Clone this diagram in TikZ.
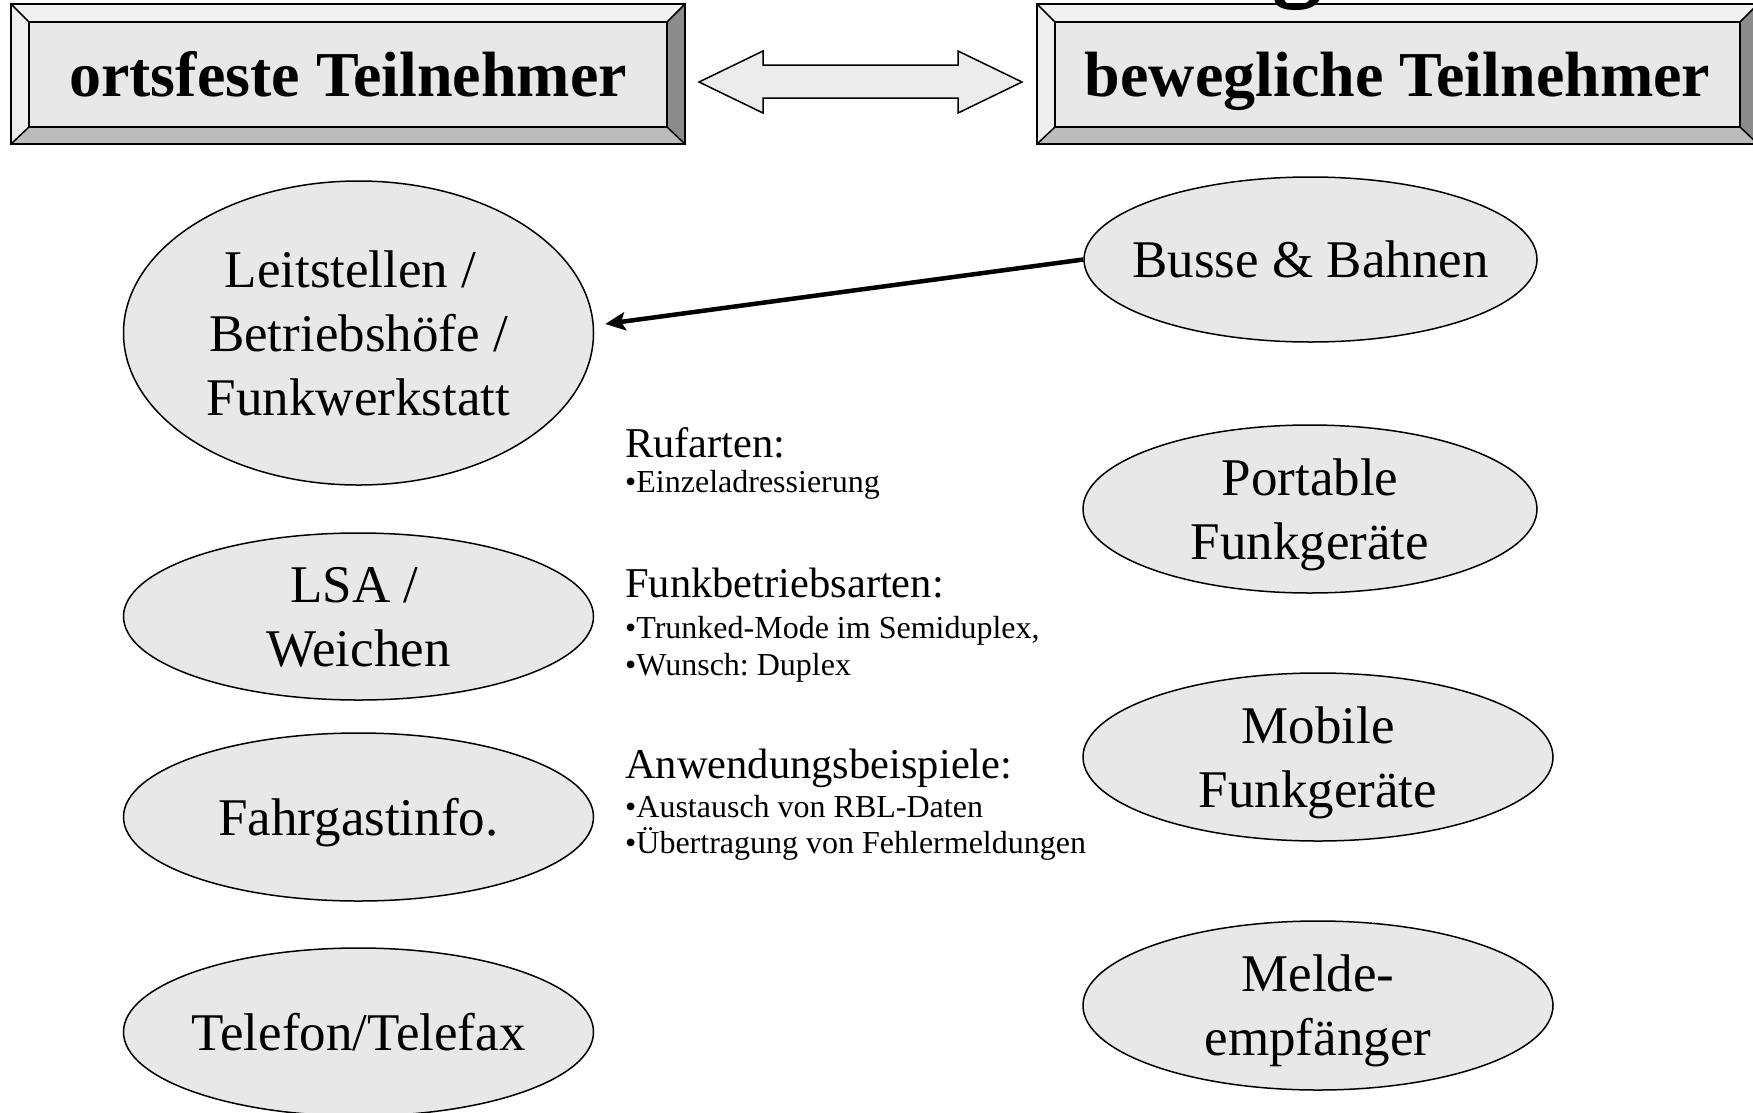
\documentclass[tikz,border=0pt]{standalone}
\usepackage{fontspec}
\setmainfont{Liberation Serif}
\usetikzlibrary{arrows.meta,shapes.geometric}
\definecolor{facegray}{RGB}{232,232,232}
\definecolor{bevlight}{RGB}{241,241,241}
\definecolor{bevleft}{RGB}{238,238,238}
\definecolor{bevright}{RGB}{140,140,140}
\definecolor{bevbottom}{RGB}{188,188,188}
\definecolor{arrowfill}{RGB}{236,236,236}
\newcommand\bevelframe[1]{%
  \coordinate (#1-onw) at ([shift={(-18,-18)}]#1.north west);
  \coordinate (#1-one) at ([shift={(18,-18)}]#1.north east);
  \coordinate (#1-ose) at ([shift={(18,17)}]#1.south east);
  \coordinate (#1-osw) at ([shift={(-18,17)}]#1.south west);
  \fill[bevlight] (#1-onw) -- (#1-one) -- (#1.north east) -- (#1.north west) -- cycle;
  \fill[bevleft] (#1-onw) -- (#1.north west) -- (#1.south west) -- (#1-osw) -- cycle;
  \fill[bevright] (#1-one) -- (#1-ose) -- (#1.south east) -- (#1.north east) -- cycle;
  \fill[bevbottom] (#1-osw) -- (#1-ose) -- (#1.south east) -- (#1.south west) -- cycle;
  \draw[bevline] (#1-onw) rectangle (#1-ose);
  \draw[bevline] (#1.north west) rectangle (#1.south east);
  \draw[bevline] (#1-onw) -- (#1.north west) (#1-one) -- (#1.north east)
                 (#1-ose) -- (#1.south east) (#1-osw) -- (#1.south west);
}
\frenchspacing
\begin{document}
\begin{tikzpicture}[x=1pt,y=-1pt,
  ell/.style={ellipse, draw=black, line width=1.5pt, fill=facegray, inner sep=0pt},
  etext/.style={align=center, inner sep=0pt, text depth=0pt, font=\fontsize{53}{64}\selectfont},
  facebox/.style={rectangle, fill=facegray, inner sep=0pt, outer sep=0pt,
     font=\fontsize{64}{70}\selectfont\bfseries, text height=44pt, text depth=0pt},
  bevline/.style={draw=black, line width=1.5pt, line join=miter},
  headtxt/.style={anchor=base west, inner sep=0pt, font=\fontsize{42.5}{50}\selectfont},
  itemtxt/.style={anchor=base west, inner sep=0pt, font=\fontsize{32}{38}\selectfont},
  linkarrow/.style={line width=4.5pt, -{Stealth[length=20pt,width=18pt,inset=4pt]}}
]
\fill[white] (0,0) rectangle (1753,1112);
\useasboundingbox (0,0) rectangle (1753,1112);

% header boxes
\node[facebox, minimum width=638pt, minimum height=105pt] (orts) at (348,74.5) {ortsfeste Teilnehmer};
\bevelframe{orts}
\node[facebox, minimum width=685pt, minimum height=105pt] (bew) at (1397.5,74.5) {bewegliche Teilnehmer};
\bevelframe{bew}

% double block arrow
\filldraw[fill=arrowfill, draw=black, line width=1.5pt, line join=miter]
  (699,82) -- (763,51) -- (763,65) -- (958,65) -- (958,51) -- (1022,82)
  -- (958,113) -- (958,98) -- (763,98) -- (763,113) -- cycle;

% clipped title fragment
\node[anchor=base, inner sep=0pt, font=\fontsize{100}{100}\selectfont\bfseries] (gfrag) at (1297,-12) {g};

% left ellipses
\node[ell, minimum width=470pt, minimum height=304pt] (lei) at (358.5,333) {};
\node[etext] (leiT) at (lei) {Leitstellen /\hspace*{16pt}\\ Betriebshöfe /\hspace*{16pt}\\ Funkwerkstatt};
\node[ell, minimum width=470pt, minimum height=167pt] (lsa) at (358.5,616.5) {};
\node[etext] (lsaT) at (lsa) {LSA /\hspace*{8pt}\\ Weichen};
\node[ell, minimum width=470pt, minimum height=168pt] (fgi) at (358.5,817) {};
\node[etext] (fgiT) at (fgi) {Fahrgastinfo.};
\node[ell, minimum width=470pt, minimum height=168pt] (tel) at (358.5,1032) {};
\node[etext] (telT) at (tel) {Telefon/Telefax};

% right ellipses
\node[ell, minimum width=453pt, minimum height=165pt] (bus) at (1310.5,259.5) {};
\node[etext] (busT) at (bus) {Busse \& Bahnen};
\node[ell, minimum width=454pt, minimum height=168pt] (por) at (1310,509) {};
\node[etext] (porT) at (por) {Portable\\ Funkgeräte};
\node[ell, minimum width=470pt, minimum height=168pt] (mob) at (1318,757) {};
\node[etext] (mobT) at (mob) {Mobile\\ Funkgeräte};
\node[ell, minimum width=470pt, minimum height=169pt] (mel) at (1318,1005.5) {};
\node[etext] (melT) at (mel) {Melde-\\ empfänger};

% connector
\draw[linkarrow] (bus.west) -- ([shift={(11,-9)}]lei.east);

% middle text
\node[headtxt] (ruf) at (625,457) {Rufarten:};
\node[itemtxt] (ruf1) at (625,492) {•Einzeladressierung};
\node[headtxt] (fbt) at (625,597) {Funkbetriebsarten:};
\node[itemtxt] (fbt1) at (625,638) {•Trunked-Mode im Semiduplex,};
\node[itemtxt] (fbt2) at (625,675) {•Wunsch: Duplex};
\node[headtxt] (anw) at (625,778) {Anwendungsbeispiele:};
\node[itemtxt] (anw1) at (625,817) {•Austausch von RBL-Daten};
\node[itemtxt] (anw2) at (625,853) {•Übertragung von Fehlermeldungen};
\end{tikzpicture}
\end{document}
